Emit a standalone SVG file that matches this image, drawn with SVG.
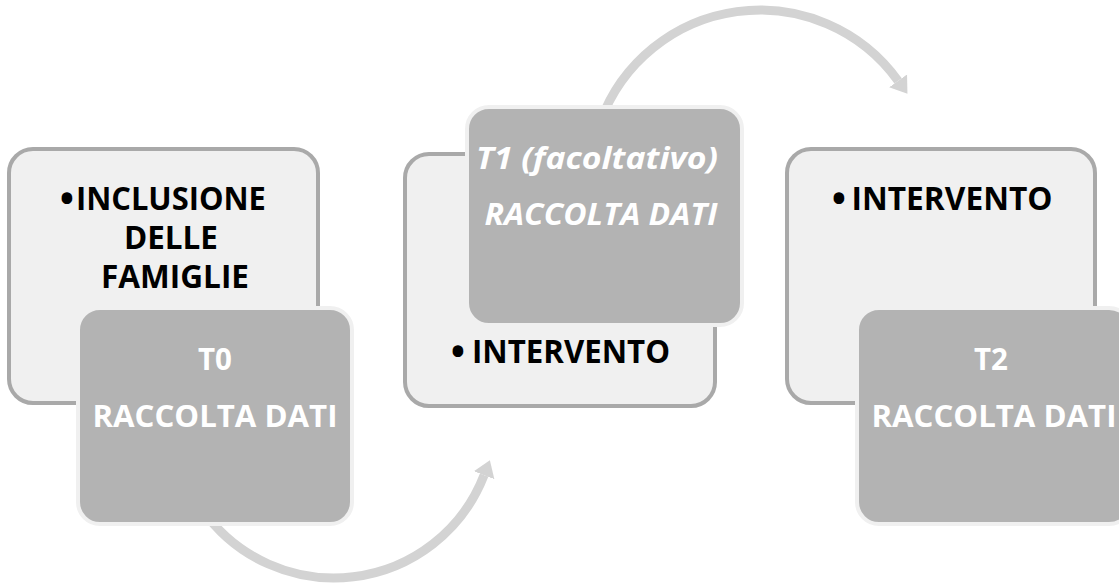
<svg xmlns="http://www.w3.org/2000/svg" width="1119" height="585" viewBox="0 0 1119 585">
  <defs>
    <style>
      .outer { fill: #f0f0f0; stroke: #a9a9a9; stroke-width: 4; }
      .inner { fill: #b3b3b3; stroke: #f0f0f0; stroke-width: 4; }
      .blk { font-family: "Open Sans", "Liberation Sans", sans-serif; font-weight: bold; font-size: 31.5px; fill: #000; }
      .bul { font-family: "Open Sans", "Liberation Sans", sans-serif; font-weight: bold; font-size: 38px; fill: #000; text-anchor: middle; }
      .wht { font-family: "Open Sans", "Liberation Sans", sans-serif; font-weight: bold; font-size: 29.5px; fill: #fff; text-anchor: middle; }
      .itl { font-style: italic; }
      .arc { fill: none; stroke: #d3d3d3; stroke-width: 9; }
    </style>
    <marker id="ah" markerUnits="userSpaceOnUse" markerWidth="20" markerHeight="26" viewBox="0 -13 20 26" refX="0" refY="0" orient="auto">
      <path d="M0,-11 L16,0 L0,11 Z" fill="#d3d3d3"/>
    </marker>
  </defs>
  <rect width="1119" height="585" fill="#ffffff"/>

  <g id="connectors">
    <path class="arc" d="M202.1,509.3 A161,161 0 0 0 484.1,475.2" marker-end="url(#ah)"/>
    <path class="arc" d="M600.3,121.9 A170,170 0 0 1 898.1,80.8" marker-end="url(#ah)"/>
  </g>

  <g id="node-inclusione">
    <rect class="outer" x="9" y="149" width="309" height="254" rx="24"/>
    <text class="bul" x="67" y="212">•</text>
    <text class="blk" text-anchor="middle">
      <tspan x="175" y="210" textLength="190" lengthAdjust="spacingAndGlyphs">INCLUSIONE</tspan>
      <tspan x="175" y="249" textLength="94" lengthAdjust="spacingAndGlyphs">DELLE</tspan>
      <tspan x="175" y="288" textLength="148" lengthAdjust="spacingAndGlyphs">FAMIGLIE</tspan>
    </text>
  </g>
  <g id="node-t0">
    <rect class="inner" x="78" y="308" width="274" height="216" rx="22"/>
    <text class="wht"><tspan x="215" y="370">T0</tspan><tspan x="215" y="427" textLength="245" lengthAdjust="spacingAndGlyphs">RACCOLTA DATI</tspan></text>
  </g>

  <g id="node-intervento-1">
    <rect class="outer" x="405" y="154" width="310" height="252" rx="24"/>
    <text class="bul" x="458" y="365">•</text>
    <text class="blk" text-anchor="middle"><tspan x="571" y="363" textLength="198" lengthAdjust="spacingAndGlyphs">INTERVENTO</tspan></text>
  </g>
  <g id="node-t1">
    <rect class="inner" x="467" y="107" width="275" height="218" rx="22"/>
    <text class="wht itl"><tspan x="597" y="169" textLength="242" lengthAdjust="spacingAndGlyphs">T1 (facoltativo)</tspan><tspan x="601" y="225" textLength="233" lengthAdjust="spacingAndGlyphs">RACCOLTA DATI</tspan></text>
  </g>

  <g id="node-intervento-2">
    <rect class="outer" x="787" y="149" width="308" height="254" rx="24"/>
    <text class="bul" x="839" y="212">•</text>
    <text class="blk" text-anchor="middle"><tspan x="952" y="210" textLength="201" lengthAdjust="spacingAndGlyphs">INTERVENTO</tspan></text>
  </g>
  <g id="node-t2">
    <rect class="inner" x="857" y="308" width="274" height="216" rx="22"/>
    <text class="wht"><tspan x="991" y="370">T2</tspan><tspan x="994" y="427" textLength="245" lengthAdjust="spacingAndGlyphs">RACCOLTA DATI</tspan></text>
  </g>
</svg>
